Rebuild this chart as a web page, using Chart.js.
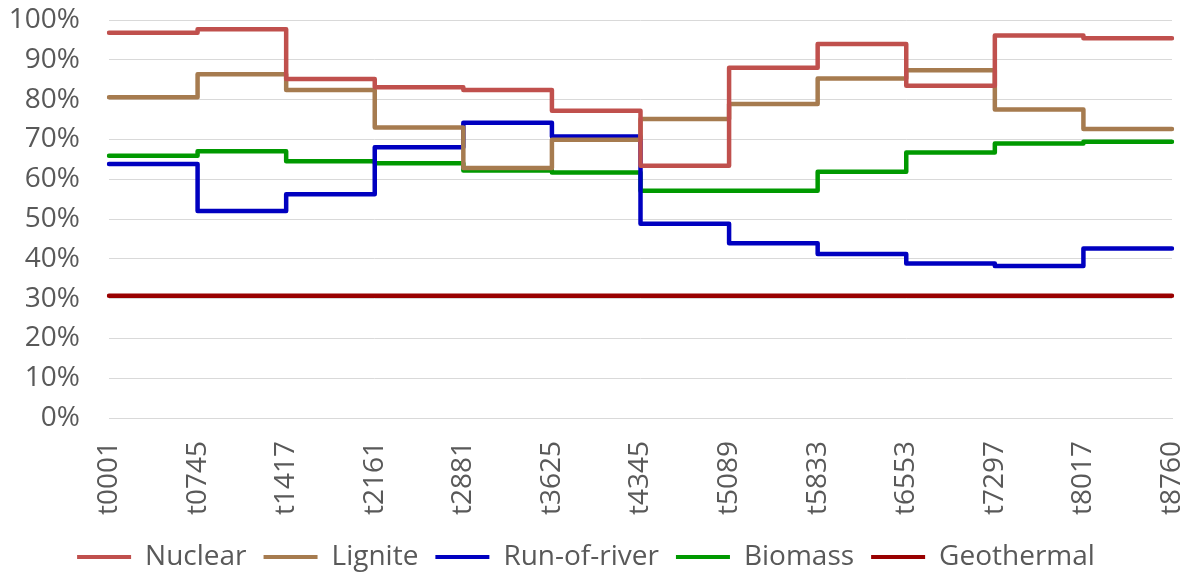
<!DOCTYPE html>
<html>
<head>
<meta charset="utf-8">
<script src="https://cdn.jsdelivr.net/npm/chart.js@4"></script>
<style>
  html, body { margin: 0; padding: 0; background: #fff; }
  #wrap { width: 1192px; height: 575px; position: relative; }
</style>
</head>
<body>
<div id="wrap"><canvas id="chart"></canvas></div>
<script>
// ── DATA ─────────────────────────────────────────
// hour stamps at the start of each month (last one = end of year)
const LABELS = [
  "t0001","t0745","t1417","t2161","t2881","t3625","t4345",
  "t5089","t5833","t6553","t7297","t8017","t8760"
];

// monthly availability in %, one value per month
const NUCLEAR    = [96.8, 97.7, 85.2, 83.1, 82.4, 77.2, 63.4, 88.0, 94.0, 83.5, 96.1, 95.4];
const LIGNITE    = [80.6, 86.4, 82.4, 73.0, 62.8, 69.9, 75.1, 78.9, 85.3, 87.4, 77.5, 72.6];
const RUN_RIVER  = [63.8, 52.0, 56.2, 68.0, 74.2, 70.7, 48.8, 43.9, 41.2, 38.8, 38.2, 42.6];
const BIOMASS    = [65.9, 67.0, 64.5, 64.0, 62.2, 61.7, 57.1, 57.1, 61.9, 66.7, 69.0, 69.4];
const GEOTHERMAL = [30.7, 30.7, 30.7, 30.7, 30.7, 30.7, 30.7, 30.7, 30.7, 30.7, 30.7, 30.7];

const Y_TICKS = [0, 10, 20, 30, 40, 50, 60, 70, 80, 90, 100];

// ── HELPERS ──────────────────────────────────────

// a step line needs a closing point at t8760 holding the December value
function steps(arr) {
  return [...arr, arr[arr.length - 1]];
}

function series(label, data, color) {
  return {
    label,
    data: steps(data),
    borderColor: color,
    backgroundColor: color,
    borderWidth: 4.5,
    borderCapStyle: "round",
    borderJoinStyle: "round",
    stepped: true,
    pointRadius: 0,
    fill: false,
  };
}

// no overhang padding for edge labels, so the plot area is exactly what we set
function noOverhang(s) {
  s.paddingTop = 0;
  s.paddingBottom = 0;
  s.paddingLeft = 0;
  s.paddingRight = 0;
}

const FONT = "'Open Sans', 'Noto Sans', sans-serif";
const TEXT = "#595959";
const GRID = "#d9d9d9";

// ── CHART ────────────────────────────────────────

new Chart(document.getElementById("chart"), {
  type: "line",
  data: {
    labels: LABELS,
    datasets: [
      series("Nuclear", NUCLEAR, "#c0504d"),
      series("Lignite", LIGNITE, "#a67b4f"),
      series("Run-of-river", RUN_RIVER, "#0000c0"),
      series("Biomass", BIOMASS, "#009900"),
      series("Geothermal", GEOTHERMAL, "#990000"),
    ],
  },
  options: {
    responsive: true,
    maintainAspectRatio: false,
    animation: false,
    layout: { padding: { top: 20, right: 20, left: 0, bottom: -6 } },
    plugins: {
      tooltip: { enabled: false },
      legend: {
        position: "bottom",
        labels: {
          color: TEXT,
          font: { family: FONT, size: 28 },
          boxWidth: 54,
          boxHeight: 4,
          padding: 17,
          generateLabels: chart =>
            Chart.defaults.plugins.legend.labels.generateLabels(chart)
              .map(item => ({ ...item, lineWidth: 0 })),
        },
      },
    },
    scales: {
      x: {
        offset: false,
        grid: { display: false, drawTicks: false },
        border: { color: GRID, width: 1 },
        ticks: {
          color: TEXT,
          font: { family: FONT, size: 28 },
          minRotation: 90,
          maxRotation: 90,
          autoSkip: false,
          padding: 23,
        },
        afterFit: s => { s.height = 108; noOverhang(s); },
      },
      y: {
        min: 0,
        max: 100,
        afterBuildTicks: s => { s.ticks = Y_TICKS.map(v => ({ value: v })); },
        grid: { color: GRID, lineWidth: 1, drawTicks: false },
        border: { display: false },
        ticks: {
          color: TEXT,
          font: { family: FONT, size: 28 },
          padding: 29,
          callback: v => v + "%",
        },
        afterFit: s => { s.width = 109; noOverhang(s); },
      },
    },
  },
});
</script>
</body>
</html>
